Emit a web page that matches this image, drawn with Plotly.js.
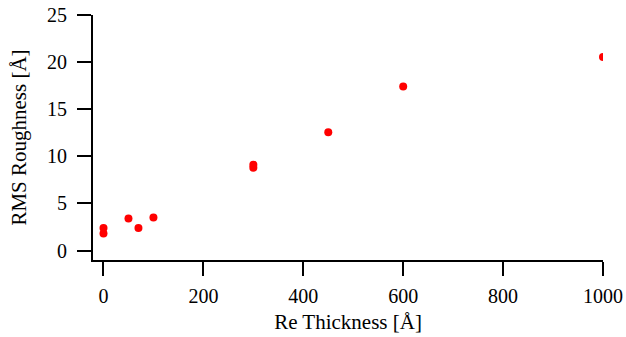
<!DOCTYPE html>
<html>
<head>
<meta charset="utf-8">
<script src="https://cdn.plot.ly/plotly-3.0.1.min.js"></script>
<style>html,body{margin:0;padding:0;background:#fff;}#chart{width:626px;height:337px;}</style>
</head>
<body>
<div id="chart"></div>
<script>
const thickness = [0, 0, 50, 70, 100, 300, 300, 450, 600, 1000];
const roughness = [1.8, 2.4, 3.4, 2.4, 3.5, 8.8, 9.1, 12.55, 17.4, 20.55];
const xTicks = [0, 200, 400, 600, 800, 1000];
const yTicks = [0, 5, 10, 15, 20, 25];

const font = {family: 'Liberation Serif, Times New Roman, serif', size: 20, color: '#000'};
const titleFont = {family: 'Liberation Serif, Times New Roman, serif', size: 21, color: '#000'};

Plotly.newPlot('chart', [{
  x: thickness, y: roughness, type: 'scatter', mode: 'markers',
  marker: {color: '#ff0000', size: 8}
}], {
  width: 626, height: 337,
  margin: {l: 93, r: 23, t: 15, b: 77},
  paper_bgcolor: '#fff', plot_bgcolor: '#fff',
  font: font,
  showlegend: false,
  xaxis: {
    range: [-21, 1000], tickvals: xTicks, ticktext: xTicks.map(String),
    showgrid: false, zeroline: false, showline: true, linecolor: '#000', linewidth: 2,
    ticks: 'outside', ticklen: 14, tickwidth: 2, tickcolor: '#000',
    tickfont: font, ticklabelstandoff: 3,
    title: {text: 'Re Thickness [Å]', font: titleFont, standoff: 8}
  },
  yaxis: {
    range: [-1, 25], tickvals: yTicks, ticktext: yTicks.map(String),
    showgrid: false, zeroline: false, showline: true, linecolor: '#000', linewidth: 2,
    ticks: 'outside', ticklen: 14, tickwidth: 2, tickcolor: '#000',
    tickfont: font, ticklabelstandoff: 6,
    title: {text: 'RMS Roughness [Å]', font: titleFont, standoff: 15}
  }
}, {displayModeBar: false, staticPlot: true});
</script>
</body>
</html>
